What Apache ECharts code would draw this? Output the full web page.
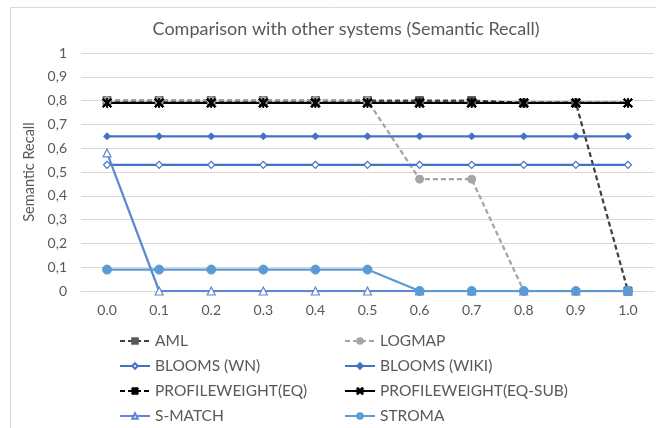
<!DOCTYPE html>
<html>
<head>
<meta charset="utf-8">
<script src="https://cdn.jsdelivr.net/npm/echarts@6/dist/echarts.min.js"></script>
<style>
  html, body { margin: 0; padding: 0; background: #fff; }
  #chart { width: 656px; height: 428px; }
</style>
</head>
<body>
<div id="chart"></div>
<script>
// Threshold values on the x axis
const thresholds = ['0.0', '0.1', '0.2', '0.3', '0.4', '0.5', '0.6', '0.7', '0.8', '0.9', '1.0'];
// Y tick labels (decimal comma)
const yTickLabels = ['0', '0,1', '0,2', '0,3', '0,4', '0,5', '0,6', '0,7', '0,8', '0,9', '1'];

// Semantic recall per system
const aml          = [0.80, 0.80, 0.80, 0.80, 0.80, 0.80, 0.80, 0.80, 0.79, 0.79, 0.00];
const logmap       = [0.80, 0.80, 0.80, 0.80, 0.80, 0.80, 0.47, 0.47, 0.00, 0.00, 0.00];
const bloomsWn     = [0.53, 0.53, 0.53, 0.53, 0.53, 0.53, 0.53, 0.53, 0.53, 0.53, 0.53];
const bloomsWiki   = [0.65, 0.65, 0.65, 0.65, 0.65, 0.65, 0.65, 0.65, 0.65, 0.65, 0.65];
const pwEq         = [0.79, 0.79, 0.79, 0.79, 0.79, 0.79, 0.79, 0.79, 0.79, 0.79, 0.79];
const pwEqSub      = [0.79, 0.79, 0.79, 0.79, 0.79, 0.79, 0.79, 0.79, 0.79, 0.79, 0.79];
const sMatch       = [0.58, 0.00, 0.00, 0.00, 0.00, 0.00, 0.00, 0.00, 0.00, 0.00, 0.00];
const stroma       = [0.09, 0.09, 0.09, 0.09, 0.09, 0.09, 0.00, 0.00, 0.00, 0.00, 0.00];

const FONT = 'Lato';
const TEXT = '#595959';

// Marker shapes not built into ECharts
const crossPath = 'path://M0,1.2 L1.2,0 L5,3.8 L8.8,0 L10,1.2 L6.2,5 L10,8.8 L8.8,10 L5,6.2 L1.2,10 L0,8.8 L3.8,5 Z';
const starPath = crossPath + ' M4.35,0 L5.65,0 L5.65,10 L4.35,10 Z';

function lineSeries(name, data, color, opts) {
  return Object.assign({
    name: name,
    type: 'line',
    data: data,
    symbolSize: 7,
    lineStyle: { color: color, width: 2.25, type: 'solid' },
    itemStyle: { color: color, borderColor: color, borderWidth: 1 },
    emphasis: { disabled: true },
    animation: false
  }, opts);
}

const legendText = { color: TEXT, fontFamily: FONT, fontSize: 15.5 };

const chart = echarts.init(document.getElementById('chart'), null, { renderer: 'canvas' });

chart.setOption({
  backgroundColor: '#fff',
  textStyle: { fontFamily: FONT },
  title: {
    text: 'Comparison with other systems (Semantic Recall)',
    left: 341, textAlign: 'center', top: 15,
    textStyle: { fontFamily: FONT, fontSize: 18, fontWeight: 'normal', color: TEXT }
  },
  graphic: [{
    type: 'rect', silent: true,
    shape: { x: 10.5, y: 7.5, width: 700, height: 600 },
    style: { fill: 'none', stroke: '#d9d9d9', lineWidth: 1 }
  }],
  grid: { left: 81, right: 2, top: 53, bottom: 137 },
  xAxis: {
    type: 'category',
    data: thresholds,
    boundaryGap: true,
    axisLine: { lineStyle: { color: '#d9d9d9' } },
    axisTick: { show: false },
    axisLabel: { color: TEXT, fontFamily: FONT, fontSize: 14, margin: 12 }
  },
  yAxis: {
    type: 'value',
    min: 0, max: 1, interval: 0.1,
    name: 'Semantic Recall',
    nameLocation: 'middle',
    nameGap: 34,
    nameTextStyle: { color: TEXT, fontFamily: FONT, fontSize: 14.5 },
    axisLine: { show: false },
    axisTick: { show: false },
    splitLine: { lineStyle: { color: '#d9d9d9' } },
    axisLabel: {
      color: TEXT, fontFamily: FONT, fontSize: 14, margin: 14,
      formatter: v => yTickLabels[Math.round(v * 10)]
    }
  },
  legend: [
    {
      data: ['AML', 'BLOOMS (WN)', 'PROFILEWEIGHT(EQ)', 'S-MATCH'],
      orient: 'vertical', left: 114, top: 328, height: 120, itemGap: 9,
      itemWidth: 30, itemHeight: 7,
      textStyle: legendText
    },
    {
      data: ['LOGMAP', 'BLOOMS (WIKI)', 'PROFILEWEIGHT(EQ-SUB)', 'STROMA'],
      orient: 'vertical', left: 339, top: 328, height: 120, itemGap: 9,
      itemWidth: 30, itemHeight: 7,
      textStyle: legendText
    }
  ],
  series: [
    lineSeries('AML', aml, '#404040', {
      symbol: 'rect', symbolSize: 8,
      lineStyle: { color: '#404040', width: 2.25, type: [5, 3] },
      itemStyle: { color: '#595959', borderColor: '#595959', borderWidth: 1 }
    }),
    lineSeries('LOGMAP', logmap, '#a5a5a5', {
      symbol: 'circle', symbolSize: 8,
      lineStyle: { color: '#a5a5a5', width: 2.25, type: [5, 3] }
    }),
    lineSeries('BLOOMS (WN)', bloomsWn, '#4472c4', {
      symbol: 'diamond', symbolSize: 7,
      itemStyle: { color: '#fff', borderColor: '#4472c4', borderWidth: 1.2 }
    }),
    lineSeries('BLOOMS (WIKI)', bloomsWiki, '#4472c4', {
      symbol: 'diamond', symbolSize: 7
    }),
    lineSeries('PROFILEWEIGHT(EQ)', pwEq, '#000000', {
      symbol: starPath, symbolSize: 9,
      lineStyle: { color: '#000', width: 2.25, type: [5, 3] }
    }),
    lineSeries('PROFILEWEIGHT(EQ-SUB)', pwEqSub, '#000000', {
      symbol: crossPath, symbolSize: 9
    }),
    lineSeries('S-MATCH', sMatch, '#5f87d4', {
      symbol: 'triangle', symbolSize: 8,
      itemStyle: { color: '#fff', borderColor: '#5f87d4', borderWidth: 1.2 }
    }),
    lineSeries('STROMA', stroma, '#5b9bd5', {
      symbol: 'circle', symbolSize: 9
    })
  ]
});
</script>
</body>
</html>
